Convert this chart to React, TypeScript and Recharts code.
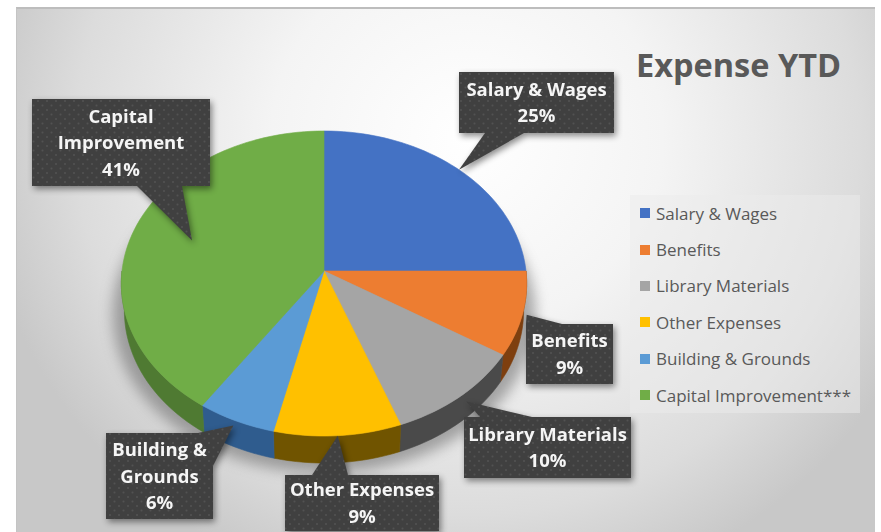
import React from 'react';
import { PieChart, Pie, Legend } from 'recharts';

const CATEGORIES = ['Salary & Wages', 'Benefits', 'Library Materials', 'Other Expenses', 'Building & Grounds', 'Capital Improvement***'];
const EXPENSES = [25.0, 8.9, 10.4, 9.4, 5.8, 40.5];
const COLORS = ['#4472C4', '#ED7D31', '#A5A5A5', '#FFC000', '#5B9BD5', '#70AD47'];
const WALL_COLORS = ['#2A4A82', '#7E3F0F', '#4A4A4A', '#705400', '#2F5C8E', '#4F7A32'];
const CALLOUT_LINES = [['Salary & Wages'], ['Benefits'], ['Library Materials'], ['Other Expenses'], ['Building &', 'Grounds'], ['Capital', 'Improvement']];

// callout box, where the tail leaves the box, and how far out along the slice the tail ends
const CALLOUTS = [
  { x: 459, y: 72, w: 155, h: 61, base: [[485, 133], [524, 133]], reach: 1 },
  { x: 526, y: 324, w: 87, h: 60, base: [[526, 324], [562, 324]], reach: 1.02 },
  { x: 464, y: 417, w: 167, h: 61, base: [[480, 417], [532, 417]], reach: 1.04 },
  { x: 285, y: 475, w: 154, h: 56, base: [[312, 475], [348, 475]], reach: 1 },
  { x: 106, y: 433, w: 107, h: 86, base: [[198, 433], [213, 466]], reach: 1.03 },
  { x: 32, y: 99, w: 178, h: 87, base: [[137, 186], [182, 186]], reach: 0.7 },
];

const CX = 324;
const CY = 271;
const RADIUS = 202;
// the pie is tilted away from the viewer: near side comes out bigger than the far side
const TILT = 0.75;
const PERSPECTIVE = 0.082;
const DEPTH = 27;
const RAD = Math.PI / 180;

const rim = (cx: number, cy: number, r: number, deg: number) => {
  const X = Math.cos(deg * RAD);
  const Y = -Math.sin(deg * RAD);
  const w = 1 - PERSPECTIVE * Y;
  return [cx + (r * X) / w, cy + (r * TILT * Y) / w];
};

const steps = (from: number, to: number) => {
  const n = Math.max(2, Math.ceil(Math.abs(to - from) / 2));
  const out: number[] = [];
  for (let i = 0; i <= n; i++) out.push(from + ((to - from) * i) / n);
  return out;
};

const toPath = (pts: number[][]) => 'M' + pts.map((p) => `${p[0].toFixed(2)},${p[1].toFixed(2)}`).join('L') + 'Z';

const FaceShape = (props: any) => {
  const { cx, cy, outerRadius, startAngle, endAngle, fill } = props;
  const pts = [[cx, cy], ...steps(startAngle, endAngle).map((a) => rim(cx, cy, outerRadius, a))];
  return <path d={toPath(pts)} fill={fill} stroke={fill} strokeWidth={0.6} />;
};

const WallShape = (props: any) => {
  const { cx, cy, outerRadius, startAngle, endAngle, fill } = props;
  const hi = Math.min(startAngle, 0);
  const lo = Math.max(endAngle, -180);
  if (hi <= lo) return <g />;
  const top = steps(hi, lo).map((a) => rim(cx, cy, outerRadius, a));
  const bottom = steps(lo, hi).map((a) => {
    const p = rim(cx, cy, outerRadius, a);
    return [cx + (p[0] - cx) * 0.985, p[1] + DEPTH];
  });
  return <path d={toPath([...top, ...bottom])} fill={fill} stroke={fill} strokeWidth={0.6} />;
};

const ShadowShape = (props: any) => {
  const { cx, cy, outerRadius, startAngle, endAngle } = props;
  const pts = [[cx, cy + 30], ...steps(startAngle, endAngle).map((a) => rim(cx, cy + 30, outerRadius + 8, a))];
  return <path d={toPath(pts)} fill="#666" stroke="#666" strokeWidth={1} />;
};

const Callout = (props: any) => {
  const { cx, cy, outerRadius, midAngle, percent, index } = props;
  const box = CALLOUTS[index];
  const lines = [...CALLOUT_LINES[index], `${Math.round(percent * 100)}%`];
  const tip = rim(cx, cy, outerRadius * box.reach, midAngle);
  const lineHeight = 26.5;
  const midY = box.y + box.h / 2;
  return (
    <g style={{ filter: 'drop-shadow(2px 3px 3px rgba(0,0,0,0.45))' }}>
      <path d={toPath([box.base[0], tip, box.base[1]])} fill="url(#calloutDots)" />
      <rect x={box.x} y={box.y} width={box.w} height={box.h} fill="url(#calloutDots)" />
      {lines.map((line, i) => (
        <text
          key={i}
          x={box.x + box.w / 2}
          y={midY + (i - (lines.length - 1) / 2) * lineHeight + 6.5}
          textAnchor="middle"
          fill="#f5f5f5"
          fontSize={18.5}
          fontWeight={700}
          fontFamily="'Open Sans', sans-serif"
        >
          {line}
        </text>
      ))}
    </g>
  );
};

const LegendBox = ({ payload }: any) => (
  <div style={{ width: 230, height: 218, background: 'rgba(236,236,236,0.5)' }}>
    {(payload || [])
      .filter((item: any) => item.type !== 'none')
      .map((item: any) => (
        <div key={item.value} style={{ height: 36.4, display: 'flex', alignItems: 'center', paddingLeft: 10 }}>
          <span style={{ width: 10, height: 10, background: item.color, marginRight: 6, flex: 'none' }} />
          <span style={{ fontSize: 17, color: '#595959', fontFamily: "'Open Sans', sans-serif", whiteSpace: 'nowrap' }}>{item.value}</span>
        </div>
      ))}
  </div>
);

const faceData = CATEGORIES.map((name, i) => ({ name, value: EXPENSES[i], fill: COLORS[i] }));
const wallData = CATEGORIES.map((name, i) => ({ name, value: EXPENSES[i], fill: WALL_COLORS[i] }));

export default function App() {
  return (
    <div style={{ position: 'absolute', left: 0, top: 0, width: 881, height: 532, background: '#fff', overflow: 'hidden' }}>
      <style>{`.pie-shadow { filter: blur(7px); opacity: 0.55; }`}</style>
      <div
        style={{
          position: 'absolute',
          left: 16,
          top: 7,
          width: 859,
          height: 525,
          borderTop: '2px solid #bdbdbd',
          borderLeft: '1px solid #c4c4c4',
          boxSizing: 'border-box',
          background: 'radial-gradient(ellipse 490px 470px at 450px 130px, #ffffff 0%, #f4f4f4 40%, #dcdcdc 80%, #c8c8c8 100%)',
        }}
      />
      <div
        style={{
          position: 'absolute',
          left: 636,
          top: 42,
          fontSize: 32.5,
          fontWeight: 700,
          color: '#595959',
          fontFamily: "'Open Sans', sans-serif",
          whiteSpace: 'nowrap',
        }}
      >
        Expense YTD
      </div>
      <div style={{ position: 'absolute', left: 0, top: 0 }}>
        <PieChart width={881} height={532} margin={{ top: 0, right: 0, bottom: 0, left: 0 }}>
          <defs>
            <pattern id="calloutDots" width={9} height={9} patternUnits="userSpaceOnUse">
              <rect width={9} height={9} fill="#404040" />
              <circle cx={2} cy={2} r={1} fill="#525252" />
              <circle cx={6.5} cy={6.5} r={1} fill="#525252" />
            </pattern>
          </defs>
          <Pie
            className="pie-shadow"
            data={wallData}
            dataKey="value"
            cx={CX}
            cy={CY}
            outerRadius={RADIUS}
            startAngle={90}
            endAngle={-270}
            shape={ShadowShape}
            legendType="none"
            stroke="none"
            isAnimationActive={false}
          />
          <Pie
            data={wallData}
            dataKey="value"
            cx={CX}
            cy={CY}
            outerRadius={RADIUS}
            startAngle={90}
            endAngle={-270}
            shape={WallShape}
            legendType="none"
            stroke="none"
            isAnimationActive={false}
          />
          <Pie
            data={faceData}
            dataKey="value"
            nameKey="name"
            cx={CX}
            cy={CY}
            outerRadius={RADIUS}
            startAngle={90}
            endAngle={-270}
            shape={FaceShape}
            label={Callout}
            labelLine={false}
            stroke="none"
            isAnimationActive={false}
          />
          <Legend
            content={LegendBox}
            layout="vertical"
            itemSorter={null}
            wrapperStyle={{ position: 'absolute', left: 630, top: 195, width: 230, height: 218, bottom: 'auto', right: 'auto' }}
          />
        </PieChart>
      </div>
    </div>
  );
}
